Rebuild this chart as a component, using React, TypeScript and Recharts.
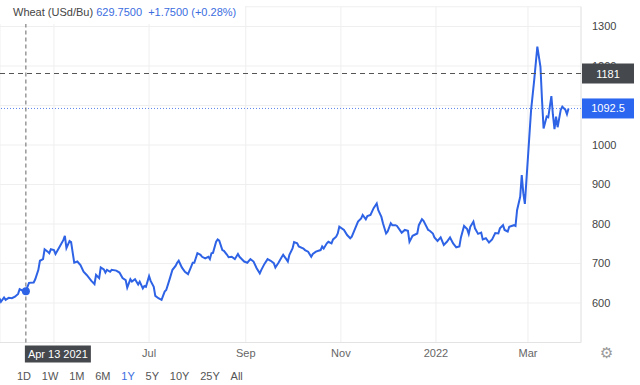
import React from "react";
import {
  CartesianGrid,
  Line,
  LineChart,
  ReferenceDot,
  ReferenceLine,
  XAxis,
  YAxis,
} from "recharts";

// days since 2021-04-01, one entry per traced session
const DAYS = [
  -5, -4, -2, -1, 1, 3, 5, 7, 8, 10,
  12, 13, 14, 17, 18, 20, 21, 23, 24, 26,
  27, 28, 30, 31, 33, 36, 37, 38, 40, 41,
  43, 45, 47, 49, 51, 54, 56, 57, 59, 60,
  62, 63, 64, 66, 67, 70, 72, 74, 76, 77,
  79, 80, 82, 84, 85, 87, 88, 89, 91, 92,
  94, 95, 97, 99, 101, 102, 104, 106, 108, 109,
  110, 112, 114, 116, 118, 119, 120, 122, 124, 125,
  127, 129, 130, 131, 132, 134, 135, 136, 138, 139,
  141, 142, 144, 146, 148, 149, 151, 152, 154, 156,
  158, 160, 162, 163, 165, 167, 169, 171, 172, 174,
  176, 177, 179, 180, 181, 183, 184, 186, 187, 190,
  191, 193, 195, 196, 198, 201, 202, 203, 205, 206,
  208, 209, 211, 212, 213, 216, 218, 220, 221, 223,
  225, 227, 228, 230, 231, 233, 235, 237, 238, 240,
  241, 243, 244, 246, 247, 249, 250, 253, 255, 257,
  258, 260, 263, 264, 266, 267, 270, 271, 273, 274,
  276, 278, 280, 282, 284, 286, 288, 290, 291, 293,
  295, 296, 297, 299, 300, 302, 304, 305, 307, 309,
  311, 313, 315, 316, 318, 319, 321, 322, 325, 326,
  327, 329, 330, 331, 332, 333, 334, 335, 336, 338,
  340, 342, 343, 344, 346, 347, 349, 350, 351, 352,
  353, 355, 356, 358, 359, 360,
];

// USd/Bu
const PRICES = [
  612, 603, 614, 608, 613, 612, 616, 623, 635, 631,
  629.75, 641, 651, 652, 660, 684, 707, 711, 736, 730,
  726, 736, 734, 724, 738, 759, 770, 739, 757, 754,
  702, 705, 696, 679, 671, 656, 648, 671, 663, 690,
  685, 677, 684, 679, 684, 682, 677, 663, 658, 639,
  660, 654, 660, 647, 654, 637, 643, 641, 668, 656,
  641, 618, 612, 608, 629, 633, 658, 684, 694, 702,
  707, 690, 679, 673, 692, 702, 702, 726, 722, 717,
  713, 717, 711, 726, 727, 755, 761, 758, 734, 732,
  722, 716, 717, 711, 724, 717, 709, 705, 702, 711,
  705, 688, 675, 684, 699, 711, 707, 701, 690, 702,
  716, 722, 711, 705, 722, 738, 754, 751, 743, 738,
  734, 730, 717, 724, 730, 734, 743, 738, 751, 755,
  751, 761, 768, 776, 793, 785, 772, 764, 768, 787,
  806, 814, 823, 812, 820, 823, 840, 852, 835, 818,
  802, 776, 781, 802, 797, 797, 795, 778, 785, 783,
  755, 770, 776, 797, 812, 808, 785, 783, 776, 766,
  757, 766, 747, 755, 766, 751, 741, 743, 766, 795,
  787, 775, 793, 806, 789, 775, 778, 761, 764, 753,
  761, 777, 776, 789, 797, 785, 781, 793, 797, 795,
  835, 869, 924, 878, 851, 911, 970, 1030, 1089, 1165,
  1249, 1198, 1114, 1042, 1072, 1070, 1124, 1076, 1040, 1072,
  1045, 1089, 1097, 1089, 1078, 1092.5,
];

const TICK_DAYS = [30, 91, 153, 214, 275, 334];
const TICK_LABELS = ["", "Jul", "Sep", "Nov", "2022", "Mar"]; // May sits under the cursor box
const Y_TICKS = [600, 700, 800, 900, 1000, 1100, 1200, 1300];
const X_DOMAIN = [-4.6, 368];
const Y_DOMAIN = [500, 1350];

const RANGES = ["1D", "1W", "1M", "6M", "1Y", "5Y", "10Y", "25Y", "All"];
const ACTIVE_RANGE = "1Y";

const CURSOR_DAY = 12;
const CURSOR_DATE = "Apr 13 2021";
const CURSOR_PRICE = 629.75;
const CURSOR_LEVEL = 1181;
const LAST_PRICE = 1092.5;

const FONT = '"Liberation Sans", Arial, sans-serif';
const BLUE = "#2e63e6";
const MARGIN = { top: 6.75, right: 0, bottom: 12.5, left: 0 };

const data = DAYS.map((day, i) => ({ day, price: PRICES[i] }));

function PriceTag({ viewBox, text, fill }: any) {
  const x = viewBox.x + viewBox.width;
  const y = viewBox.y;
  return (
    <g>
      <rect x={x + 1} y={y - 10} width={52} height={20} fill={fill} />
      <text x={x + 27} y={y + 4} fill="#fff" fontSize={11} textAnchor="middle" fontFamily={FONT}>
        {text}
      </text>
    </g>
  );
}

function DateTag({ viewBox }: any) {
  const x = viewBox.x;
  const y = viewBox.y + viewBox.height;
  return (
    <g>
      <rect x={x - 1} y={y + 3} width={66} height={17} fill="#45484d" />
      <text x={x + 32} y={y + 15.5} fill="#fff" fontSize={11} textAnchor="middle" fontFamily={FONT}>
        {CURSOR_DATE}
      </text>
    </g>
  );
}

export default function App() {
  return (
    <div
      style={{
        position: "absolute",
        left: 0,
        top: 0,
        width: 640,
        height: 385,
        background: "#fff",
        fontFamily: FONT,
        overflow: "hidden",
      }}
    >
      <LineChart width={640} height={385} data={data} margin={MARGIN} style={{ fontFamily: FONT }}>
        <CartesianGrid stroke="#efefef" />
        <XAxis
          dataKey="day"
          type="number"
          domain={X_DOMAIN}
          ticks={TICK_DAYS}
          allowDataOverflow
          tickFormatter={(v: number) => TICK_LABELS[TICK_DAYS.indexOf(v)] ?? ""}
          tickLine={false}
          tickMargin={1}
          axisLine={{ stroke: "#e3e3e3" }}
          tick={{ fill: "#666", fontSize: 11 }}
        />
        <YAxis
          orientation="right"
          type="number"
          domain={Y_DOMAIN}
          ticks={Y_TICKS}
          allowDataOverflow
          width={59}
          tickLine={false}
          tickMargin={5}
          axisLine={{ stroke: "#e6e6e6" }}
          tick={{ fill: "#444", fontSize: 11 }}
        />
        <Line
          type="linear"
          dataKey="price"
          stroke={BLUE}
          strokeWidth={2}
          dot={false}
          isAnimationActive={false}
        />
      </LineChart>

      {/* same axes, no ticks: crosshair and price tags have to sit above the y tick labels */}
      <div style={{ position: "absolute", left: 0, top: 0 }}>
        <LineChart width={640} height={385} data={data} margin={MARGIN} style={{ fontFamily: FONT }}>
          <XAxis
            dataKey="day"
            type="number"
            domain={X_DOMAIN}
            allowDataOverflow
            tick={false}
            tickLine={false}
            axisLine={false}
          />
          <YAxis
            orientation="right"
            type="number"
            domain={Y_DOMAIN}
            allowDataOverflow
            width={59}
            tick={false}
            tickLine={false}
            axisLine={false}
          />
          <ReferenceLine
            y={LAST_PRICE}
            stroke="#5b85ee"
            strokeDasharray="1 2"
            label={(p: any) => <PriceTag {...p} text={String(LAST_PRICE)} fill="#2b66f0" />}
          />
          <ReferenceLine
            y={CURSOR_LEVEL}
            stroke="#555"
            strokeDasharray="5 4"
            label={(p: any) => <PriceTag {...p} text={String(CURSOR_LEVEL)} fill="#45484d" />}
          />
          <ReferenceLine
            x={CURSOR_DAY}
            stroke="#666"
            strokeDasharray="4 3"
            label={(p: any) => <DateTag {...p} />}
          />
          <ReferenceDot x={CURSOR_DAY} y={CURSOR_PRICE} r={4} fill={BLUE} stroke="none" />
        </LineChart>
      </div>

      <div
        style={{
          position: "absolute",
          left: 0,
          top: 0,
          width: 245,
          height: 24,
          background: "#fff",
          fontSize: 11,
          lineHeight: "14px",
          padding: "5px 0 0 13px",
          boxSizing: "border-box",
          whiteSpace: "pre",
          color: "#444",
        }}
      >
        Wheat (USd/Bu) <span style={{ color: "#3b6ddf" }}>629.7500  +1.7500 (+0.28%)</span>
      </div>

      <div
        style={{
          position: "absolute",
          left: 17,
          top: 369,
          display: "flex",
          gap: 10.8,
          fontSize: 11,
          lineHeight: "14px",
          color: "#555",
        }}
      >
        {RANGES.map((r) => (
          <span key={r} style={{ color: r === ACTIVE_RANGE ? "#3b6ddf" : "#555" }}>
            {r}
          </span>
        ))}
      </div>

      <div
        style={{
          position: "absolute",
          left: 600,
          top: 344,
          fontSize: 15,
          color: "#999",
          fontFamily: '"DejaVu Sans", sans-serif',
        }}
      >
        ⚙
      </div>
    </div>
  );
}
